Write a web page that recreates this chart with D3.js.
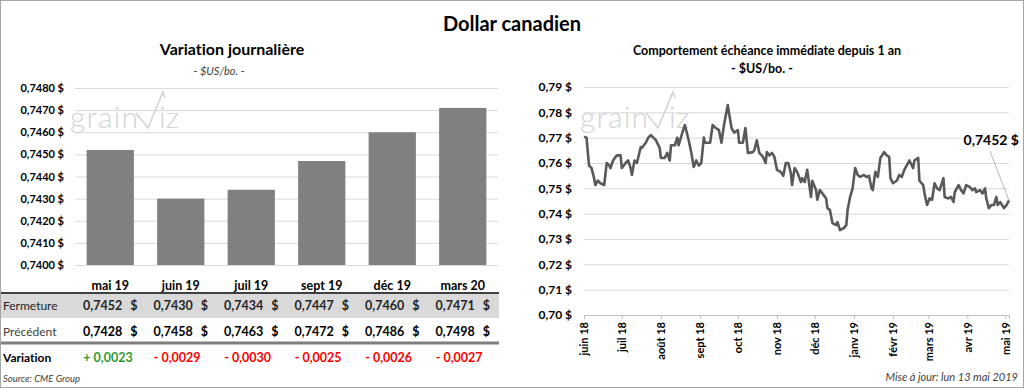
<!DOCTYPE html>
<html>
<head>
<meta charset="utf-8">
<script src="https://cdn.jsdelivr.net/npm/d3@7"></script>
<style>
  body { margin: 0; background: #fff; }
  svg { display: block; font-family: Lato, "Open Sans", sans-serif; font-variant-ligatures: none; }
</style>
</head>
<body>
<script>
// Left chart: futures contracts
const barCategories = ["mai 19", "juin 19", "juil 19", "sept 19", "déc 19", "mars 20"];
const closeValues = [0.7452, 0.7430, 0.7434, 0.7447, 0.7460, 0.7471];
const prevValues = [0.7428, 0.7458, 0.7463, 0.7472, 0.7486, 0.7498];
const changeValues = [0.0023, -0.0029, -0.0030, -0.0025, -0.0026, -0.0027];
const barTicks = [0.7400, 0.7410, 0.7420, 0.7430, 0.7440, 0.7450, 0.7460, 0.7470, 0.7480];

// Right chart: nearby contract over one year
const lineTicks = [0.70, 0.71, 0.72, 0.73, 0.74, 0.75, 0.76, 0.77, 0.78, 0.79];
const monthLabels = ["juin 18", "juil 18", "août 18", "sept 18", "oct 18", "nov 18",
    "déc 18", "janv 19", "févr 19", "mars 19", "avr 19", "mai 19"];
const lineDates = [
    "2018-06-01","2018-06-03","2018-06-05","2018-06-07","2018-06-09","2018-06-10","2018-06-12","2018-06-14","2018-06-17","2018-06-19",
    "2018-06-21","2018-06-22","2018-06-24","2018-06-27","2018-06-30","2018-07-01","2018-07-04","2018-07-06","2018-07-08","2018-07-09",
    "2018-07-11","2018-07-13","2018-07-16","2018-07-17","2018-07-20","2018-07-22","2018-07-24","2018-07-26","2018-07-28","2018-07-31",
    "2018-08-01","2018-08-04","2018-08-06","2018-08-08","2018-08-09","2018-08-12","2018-08-14","2018-08-15","2018-08-18","2018-08-20",
    "2018-08-23","2018-08-25","2018-08-27","2018-08-29","2018-08-31","2018-09-02","2018-09-04","2018-09-05","2018-09-09","2018-09-11",
    "2018-09-13","2018-09-16","2018-09-18","2018-09-20","2018-09-23","2018-09-24","2018-09-26","2018-09-28","2018-10-01","2018-10-02",
    "2018-10-05","2018-10-07","2018-10-09","2018-10-13","2018-10-14","2018-10-16","2018-10-18","2018-10-21","2018-10-23","2018-10-24",
    "2018-10-26","2018-10-28","2018-10-30","2018-11-01","2018-11-04","2018-11-06","2018-11-08","2018-11-10","2018-11-12","2018-11-13",
    "2018-11-15","2018-11-17","2018-11-20","2018-11-21","2018-11-23","2018-11-25","2018-11-28","2018-11-29","2018-12-02","2018-12-03",
    "2018-12-05","2018-12-07","2018-12-10","2018-12-11","2018-12-13","2018-12-15","2018-12-18","2018-12-19","2018-12-21","2018-12-24",
    "2018-12-26","2018-12-27","2018-12-29","2018-12-31","2019-01-01","2019-01-02","2019-01-04","2019-01-06","2019-01-09","2019-01-11",
    "2019-01-13","2019-01-15","2019-01-16","2019-01-18","2019-01-20","2019-01-22","2019-01-25","2019-01-27","2019-01-29","2019-01-30",
    "2019-02-01","2019-02-04","2019-02-06","2019-02-08","2019-02-10","2019-02-13","2019-02-14","2019-02-17","2019-02-18","2019-02-21",
    "2019-02-22","2019-02-25","2019-02-26","2019-02-28","2019-03-02","2019-03-04","2019-03-06","2019-03-08","2019-03-10","2019-03-13",
    "2019-03-14","2019-03-17","2019-03-19","2019-03-21","2019-03-22","2019-03-25","2019-03-27","2019-03-29","2019-03-31","2019-04-03",
    "2019-04-05","2019-04-07","2019-04-08","2019-04-11","2019-04-13","2019-04-15","2019-04-16","2019-04-18","2019-04-20","2019-04-22",
    "2019-04-24","2019-04-25","2019-04-27","2019-04-30","2019-05-02","2019-05-04"
];
const lineValues = [
    0.7704,0.7700,0.7590,0.7580,0.7540,0.7513,0.7530,0.7520,0.7513,0.7600,
    0.7590,0.7580,0.7610,0.7630,0.7630,0.7580,0.7600,0.7610,0.7580,0.7553,
    0.7610,0.7600,0.7663,0.7660,0.7680,0.7700,0.7710,0.7700,0.7690,0.7660,
    0.7620,0.7620,0.7640,0.7610,0.7670,0.7670,0.7700,0.7670,0.7720,0.7750,
    0.7690,0.7643,0.7584,0.7610,0.7590,0.7600,0.7700,0.7680,0.7680,0.7750,
    0.7740,0.7730,0.7680,0.7750,0.7829,0.7797,0.7738,0.7720,0.7730,0.7680,
    0.7680,0.7738,0.7640,0.7643,0.7650,0.7690,0.7640,0.7624,0.7600,0.7643,
    0.7630,0.7640,0.7624,0.7573,0.7565,0.7549,0.7600,0.7600,0.7560,0.7513,
    0.7580,0.7565,0.7525,0.7540,0.7525,0.7573,0.7466,0.7530,0.7493,0.7455,
    0.7493,0.7480,0.7460,0.7422,0.7414,0.7363,0.7355,0.7367,0.7335,0.7343,
    0.7355,0.7414,0.7466,0.7500,0.7540,0.7580,0.7553,0.7545,0.7553,0.7545,
    0.7549,0.7500,0.7493,0.7565,0.7545,0.7620,0.7643,0.7630,0.7624,0.7540,
    0.7520,0.7530,0.7553,0.7545,0.7573,0.7600,0.7610,0.7580,0.7610,0.7620,
    0.7530,0.7513,0.7480,0.7434,0.7460,0.7455,0.7520,0.7500,0.7493,0.7540,
    0.7466,0.7460,0.7466,0.7446,0.7485,0.7513,0.7493,0.7480,0.7513,0.7505,
    0.7493,0.7500,0.7485,0.7493,0.7480,0.7500,0.7460,0.7422,0.7434,0.7434,
    0.7466,0.7434,0.7446,0.7422,0.7434,0.7452
];

// French style numbers: comma decimal
const fmt = (d, p) => d.toFixed(p).replace(".", ",");
const parseDate = d3.timeParse("%Y-%m-%d");

const svg = d3.select("body").append("svg")
    .attr("width", 1024)
    .attr("height", 388);

// Frame
svg.append("rect")
    .attr("x", 0.5).attr("y", 0.5)
    .attr("width", 1023).attr("height", 387)
    .attr("fill", "#fff")
    .attr("stroke", "#a6a6a6");

// Main title
svg.append("text")
    .attr("x", 512).attr("y", 31)
    .attr("text-anchor", "middle")
    .attr("font-size", 20).attr("font-weight", "bold")
    .attr("fill", "#000")
    .text("Dollar canadien");

// Watermark logo
function drawLogo(x0, y0) {
    const g = svg.append("g").attr("transform", `translate(${x0},${y0})`);
    g.append("text")
        .attr("font-size", 30).attr("font-weight", 300)
        .attr("letter-spacing", 1.2)
        .attr("fill", "#d4d4d4")
        .text("grain");
    g.append("path")
        .attr("d", "M66,-15 L78,0 L93,-36 M90,-30 L93,-36 L95,-30")
        .attr("fill", "none")
        .attr("stroke", "#d4d4d4")
        .attr("stroke-width", 1.6);
    g.append("text")
        .attr("x", 89)
        .attr("font-size", 30).attr("font-weight", 300)
        .attr("fill", "#d4d4d4")
        .text("iz");
}

// ---------- Left: Variation journalière ----------
svg.append("text")
    .attr("x", 232).attr("y", 55)
    .attr("text-anchor", "middle")
    .attr("font-size", 16).attr("font-weight", "bold")
    .text("Variation journalière");

svg.append("text")
    .attr("x", 219).attr("y", 75)
    .attr("text-anchor", "middle")
    .attr("font-size", 11).attr("font-style", "italic")
    .attr("fill", "#404040")
    .text("- $US/bo. -");

const xBand = d3.scaleBand()
    .domain(barCategories)
    .range([75, 498])
    .paddingInner(0.33)
    .paddingOuter(0.165);

const yBar = d3.scaleLinear()
    .domain([0.7400, 0.7480])
    .range([265, 88]);

// Gridlines
svg.append("g")
    .attr("class", "grid")
    .attr("transform", "translate(75,0)")
    .call(d3.axisLeft(yBar).tickValues(barTicks).tickSize(-423).tickFormat(""))
    .call(g => g.select(".domain").remove())
    .call(g => g.selectAll("line").attr("stroke", "#d9d9d9"));

drawLogo(70, 128);

// Bars
svg.selectAll(".bar")
    .data(barCategories)
    .enter()
    .append("rect")
    .attr("class", "bar")
    .attr("x", d => xBand(d))
    .attr("width", xBand.bandwidth())
    .attr("y", (d, i) => yBar(closeValues[i]))
    .attr("height", (d, i) => yBar(0.7400) - yBar(closeValues[i]))
    .attr("fill", "#808080");

// Y axis labels
svg.append("g")
    .attr("transform", "translate(67,0)")
    .call(d3.axisLeft(yBar).tickValues(barTicks).tickSize(0).tickPadding(3)
        .tickFormat(d => fmt(d, 4) + " $"))
    .call(g => g.select(".domain").remove())
    .call(g => g.selectAll("text")
        .attr("font-family", "Lato, sans-serif")
        .attr("font-size", 11).attr("font-weight", "bold").attr("fill", "#000"));

// Category labels
svg.append("g")
    .attr("transform", "translate(0,265)")
    .call(d3.axisBottom(xBand).tickSize(0).tickPadding(16))
    .call(g => g.select(".domain").remove())
    .call(g => g.selectAll("text")
        .attr("font-family", "Lato, sans-serif")
        .attr("font-size", 12.5).attr("font-weight", "bold").attr("fill", "#000"));

// Table below the bars
svg.append("rect")
    .attr("x", 1).attr("y", 294)
    .attr("width", 498).attr("height", 24)
    .attr("fill", "#d9d9d9");

svg.append("line")
    .attr("x1", 1).attr("x2", 499)
    .attr("y1", 293).attr("y2", 293)
    .attr("stroke", "#404040").attr("stroke-width", 2);

svg.append("line")
    .attr("x1", 1).attr("x2", 499)
    .attr("y1", 343).attr("y2", 343)
    .attr("stroke", "#7f7f7f").attr("stroke-width", 3);

const rowLabels = [
    {label: "Fermeture", y: 310, weight: "normal", color: "#262626"},
    {label: "Précédent", y: 336, weight: "normal", color: "#404040"},
    {label: "Variation", y: 362, weight: "bold", color: "#000"}
];

svg.selectAll(".row-label")
    .data(rowLabels)
    .enter()
    .append("text")
    .attr("class", "row-label")
    .attr("x", 3)
    .attr("y", d => d.y)
    .attr("font-size", 12)
    .attr("font-weight", d => d.weight)
    .attr("fill", d => d.color)
    .text(d => d.label);

function priceRow(values, y, color) {
    const cells = svg.selectAll(null)
        .data(values)
        .enter()
        .append("g")
        .attr("transform", (d, i) => `translate(${xBand(barCategories[i]) + xBand.bandwidth() / 2},${y})`);
    cells.append("text")
        .attr("x", 12)
        .attr("text-anchor", "end")
        .attr("font-size", 12.5).attr("font-weight", "bold")
        .attr("fill", color)
        .text(d => fmt(d, 4));
    cells.append("text")
        .attr("x", 20)
        .attr("font-size", 12.5).attr("font-weight", "bold")
        .attr("fill", color)
        .text("$");
}

priceRow(closeValues, 310, "#262626");
priceRow(prevValues, 336, "#000");

svg.selectAll(".change")
    .data(changeValues)
    .enter()
    .append("text")
    .attr("class", "change")
    .attr("x", (d, i) => xBand(barCategories[i]) + xBand.bandwidth() / 2 - 27)
    .attr("y", 362)
    .attr("font-size", 12.5).attr("font-weight", "bold")
    .attr("fill", d => d >= 0 ? "#2e9a2e" : "#ff0000")
    .text(d => (d >= 0 ? "+ " : "- ") + fmt(Math.abs(d), 4));

svg.append("text")
    .attr("x", 3).attr("y", 382)
    .attr("font-size", 9.5).attr("font-style", "italic")
    .attr("fill", "#404040")
    .text("Source: CME Group");

// ---------- Right: Comportement échéance immédiate ----------
svg.append("text")
    .attr("x", 767).attr("y", 55)
    .attr("text-anchor", "middle")
    .attr("font-size", 12.5).attr("font-weight", "bold")
    .text("Comportement échéance immédiate depuis 1 an");

svg.append("text")
    .attr("x", 762).attr("y", 73)
    .attr("text-anchor", "middle")
    .attr("font-size", 12.5).attr("font-weight", "bold")
    .text("- $US/bo. -");

const lineData = lineDates.map((d, i) => ({date: parseDate(d), value: lineValues[i]}));

const xTime = d3.scaleTime()
    .domain([parseDate("2018-06-01"), parseDate("2019-05-04")])
    .range([584, 1009]);

const yLine = d3.scaleLinear()
    .domain([0.70, 0.79])
    .range([315, 87]);

svg.append("g")
    .attr("class", "grid")
    .attr("transform", "translate(584,0)")
    .call(d3.axisLeft(yLine).tickValues(lineTicks).tickSize(-425).tickFormat(""))
    .call(g => g.select(".domain").remove())
    .call(g => g.selectAll("line").attr("stroke", "#d9d9d9"));

drawLogo(580, 128);

svg.append("g")
    .attr("transform", "translate(575,0)")
    .call(d3.axisLeft(yLine).tickValues(lineTicks).tickSize(0).tickPadding(3)
        .tickFormat(d => fmt(d, 2) + " $"))
    .call(g => g.select(".domain").remove())
    .call(g => g.selectAll("text")
        .attr("font-family", "Lato, sans-serif")
        .attr("font-size", 12).attr("font-weight", "bold").attr("fill", "#000"));

const monthTicks = d3.timeMonth.range(parseDate("2018-06-01"), parseDate("2019-05-02"));

svg.append("g")
    .attr("transform", "translate(0,315)")
    .call(d3.axisBottom(xTime).tickValues(monthTicks).tickSize(4)
        .tickFormat((d, i) => monthLabels[i]))
    .call(g => g.select(".domain").attr("stroke", "#bfbfbf"))
    .call(g => g.selectAll("line").attr("stroke", "#bfbfbf"))
    .call(g => g.selectAll("text")
        .attr("font-family", "Lato, sans-serif")
        .attr("font-size", 11).attr("font-weight", "bold").attr("fill", "#000")
        .attr("transform", "rotate(-90)")
        .attr("text-anchor", "end")
        .attr("x", -7).attr("y", 0).attr("dy", "0.35em"));

const line = d3.line()
    .x(d => xTime(d.date))
    .y(d => yLine(d.value));

svg.append("path")
    .datum(lineData)
    .attr("d", line)
    .attr("fill", "none")
    .attr("stroke", "#595959")
    .attr("stroke-width", 2.6)
    .attr("stroke-linejoin", "round");

// Last value callout
const last = lineData[lineData.length - 1];
svg.append("line")
    .attr("x1", 990).attr("y1", 151)
    .attr("x2", xTime(last.date)).attr("y2", yLine(last.value))
    .attr("stroke", "#a6a6a6").attr("stroke-width", 0.8);

svg.append("text")
    .attr("x", 1019).attr("y", 145)
    .attr("text-anchor", "end")
    .attr("font-size", 14).attr("font-weight", "bold")
    .text(fmt(last.value, 4) + " $");

svg.append("text")
    .attr("x", 1018).attr("y", 381)
    .attr("text-anchor", "end")
    .attr("font-size", 11).attr("font-style", "italic")
    .attr("fill", "#404040")
    .text("Mise à jour: lun 13 mai 2019");
</script>
</body>
</html>
